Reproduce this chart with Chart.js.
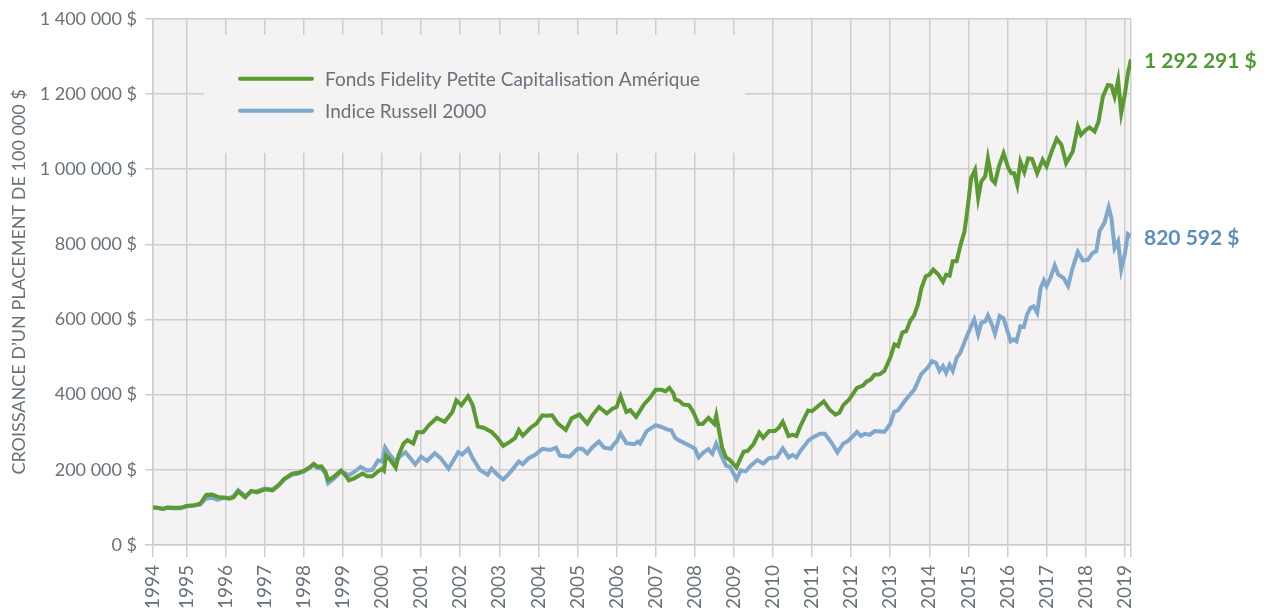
<!DOCTYPE html>
<html>
<head>
<meta charset="utf-8">
<script src="https://cdn.jsdelivr.net/npm/chart.js@4.4.1/dist/chart.umd.min.js"></script>
<style>
  html, body { margin: 0; padding: 0; background: #fff; }
  canvas { display: block; }
</style>
</head>
<body>
<canvas id="growth" width="1270" height="608"></canvas>
<script>
// Series (values in thousands of $, dates as decimal years)
const fundName = "Fonds Fidelity Petite Capitalisation Amérique";
const indexName = "Indice Russell 2000";

const fundYears = [
  1994.14, 1994.25, 1994.4, 1994.5, 1994.7, 1994.85, 1995.0, 1995.2, 1995.35, 1995.5,
  1995.65, 1995.8, 1995.95, 1996.1, 1996.2, 1996.32, 1996.5, 1996.65, 1996.8, 1997.0,
  1997.2, 1997.35, 1997.5, 1997.7, 1997.85, 1998.0, 1998.15, 1998.25, 1998.35, 1998.45,
  1998.55, 1998.62, 1998.75, 1998.95, 1999.08, 1999.15, 1999.3, 1999.5, 1999.62, 1999.75,
  1999.9, 2000.0, 2000.05, 2000.1, 2000.2, 2000.35, 2000.42, 2000.55, 2000.65, 2000.8,
  2000.9, 2001.05, 2001.2, 2001.4, 2001.6, 2001.8, 2001.9, 2002.03, 2002.2, 2002.32,
  2002.45, 2002.6, 2002.8, 2002.95, 2003.1, 2003.25, 2003.4, 2003.5, 2003.6, 2003.8,
  2003.95, 2004.1, 2004.2, 2004.35, 2004.5, 2004.7, 2004.85, 2005.05, 2005.25, 2005.38,
  2005.55, 2005.75, 2005.9, 2006.0, 2006.1, 2006.25, 2006.35, 2006.5, 2006.7, 2006.85,
  2007.0, 2007.15, 2007.25, 2007.35, 2007.45, 2007.5, 2007.6, 2007.7, 2007.85, 2007.95,
  2008.1, 2008.2, 2008.35, 2008.5, 2008.55, 2008.7, 2008.8, 2008.9, 2009.07, 2009.15,
  2009.25, 2009.35, 2009.5, 2009.65, 2009.75, 2009.9, 2010.05, 2010.15, 2010.25, 2010.4,
  2010.5, 2010.6, 2010.7, 2010.9, 2011.0, 2011.15, 2011.3, 2011.45, 2011.6, 2011.7,
  2011.8, 2011.95, 2012.15, 2012.3, 2012.4, 2012.5, 2012.6, 2012.73, 2012.85, 2013.0,
  2013.11, 2013.2, 2013.31, 2013.41, 2013.51, 2013.61, 2013.71, 2013.8, 2013.91, 2014.0,
  2014.1, 2014.22, 2014.35, 2014.43, 2014.52, 2014.6, 2014.7, 2014.8, 2014.9, 2014.98,
  2015.07, 2015.17, 2015.25, 2015.33, 2015.43, 2015.5, 2015.6, 2015.68, 2015.78, 2015.9,
  2016.02, 2016.1, 2016.17, 2016.25, 2016.33, 2016.43, 2016.53, 2016.63, 2016.76, 2016.9,
  2017.0, 2017.13, 2017.26, 2017.38, 2017.5, 2017.67, 2017.8, 2017.88, 2018.0, 2018.1,
  2018.23, 2018.33, 2018.44, 2018.57, 2018.66, 2018.74, 2018.83, 2018.91, 2019.0, 2019.08,
  2019.16
];
const fundValues = [
  100, 99, 96, 100, 99, 99, 104, 106, 110, 133,
  134, 128, 126, 123, 127, 142, 127, 144, 140, 148,
  145, 158, 176, 190, 192, 197, 207, 216, 208, 209,
  195, 173, 180, 198, 183, 172, 178, 190, 183, 183,
  196, 203, 198, 238, 228, 206, 238, 270, 279, 270,
  300, 300, 319, 338, 328, 354, 385, 372, 396, 372,
  315, 312, 301, 285, 264, 273, 284, 306, 291, 312,
  323, 345, 344, 345, 323, 306, 337, 347, 323, 345,
  367, 350, 363, 367, 396, 354, 359, 341, 374, 391,
  413, 413, 409, 418, 404, 387, 384, 374, 372, 356,
  322, 322, 338, 322, 345, 259, 233, 226, 206, 226,
  248, 250, 268, 299, 285, 303, 303, 312, 328, 290,
  293, 290, 316, 358, 356, 369, 382, 360, 347, 352,
  372, 387, 418, 424, 435, 440, 453, 454, 463, 498,
  534, 529, 565, 569, 596, 611, 640, 684, 715, 719,
  733, 721, 700, 719, 717, 755, 755, 799, 834, 896,
  976, 998, 923, 967, 981, 1029, 972, 963, 1007, 1042,
  1003, 989, 989, 958, 1020, 992, 1029, 1027, 989, 1025,
  1007, 1047, 1081, 1065, 1016, 1047, 1113, 1091, 1104, 1111,
  1100, 1127, 1193, 1224, 1222, 1193, 1237, 1149, 1197, 1255,
  1292.291
];

const indexYears = [
  1994.14, 1994.25, 1994.4, 1994.5, 1994.7, 1994.85, 1995.0, 1995.2, 1995.35, 1995.5,
  1995.65, 1995.8, 1995.95, 1996.1, 1996.2, 1996.32, 1996.5, 1996.65, 1996.8, 1997.0,
  1997.2, 1997.35, 1997.5, 1997.7, 1997.85, 1998.0, 1998.15, 1998.25, 1998.35, 1998.45,
  1998.55, 1998.62, 1998.75, 1998.95, 1999.08, 1999.15, 1999.3, 1999.45, 1999.62, 1999.75,
  1999.9, 2000.0, 2000.08, 2000.2, 2000.35, 2000.45, 2000.6, 2000.85, 2001.0, 2001.15,
  2001.35, 2001.5, 2001.7, 2001.95, 2002.05, 2002.2, 2002.32, 2002.5, 2002.7, 2002.8,
  2002.95, 2003.1, 2003.3, 2003.5, 2003.6, 2003.75, 2003.92, 2004.1, 2004.3, 2004.45,
  2004.55, 2004.8, 2005.0, 2005.12, 2005.25, 2005.4, 2005.55, 2005.68, 2005.85, 2005.95,
  2006.0, 2006.1, 2006.25, 2006.45, 2006.55, 2006.6, 2006.77, 2007.0, 2007.15, 2007.3,
  2007.4, 2007.5, 2007.62, 2007.8, 2008.0, 2008.1, 2008.22, 2008.35, 2008.45, 2008.55,
  2008.7, 2008.8, 2008.9, 2009.07, 2009.18, 2009.3, 2009.45, 2009.6, 2009.75, 2009.9,
  2010.1, 2010.25, 2010.4, 2010.5, 2010.6, 2010.7, 2010.9, 2011.0, 2011.2, 2011.33,
  2011.5, 2011.65, 2011.8, 2011.92, 2012.05, 2012.15, 2012.25, 2012.35, 2012.48, 2012.6,
  2012.85, 2013.0, 2013.1, 2013.2, 2013.37, 2013.5, 2013.62, 2013.79, 2013.96, 2014.07,
  2014.17, 2014.26, 2014.35, 2014.43, 2014.52, 2014.6, 2014.7, 2014.79, 2014.95, 2015.07,
  2015.15, 2015.25, 2015.33, 2015.43, 2015.5, 2015.6, 2015.68, 2015.8, 2015.9, 2016.08,
  2016.15, 2016.23, 2016.33, 2016.42, 2016.5, 2016.59, 2016.67, 2016.76, 2016.85, 2016.93,
  2017.0, 2017.1, 2017.21, 2017.3, 2017.43, 2017.55, 2017.67, 2017.8, 2017.93, 2018.06,
  2018.18, 2018.27, 2018.36, 2018.48, 2018.59, 2018.66, 2018.74, 2018.83, 2018.91, 2019.0,
  2019.08, 2019.16
];
const indexValues = [
  100, 99, 96, 99, 97, 98, 103, 105, 108, 124,
  126, 120, 126, 125, 130, 146, 130, 142, 143, 150,
  148, 160, 175, 187, 190, 196, 205, 213, 205, 204,
  190, 164, 175, 195, 190, 185, 195, 208, 198, 200,
  225, 222, 259, 240, 222, 235, 247, 215, 235, 224,
  244, 231, 203, 247, 241, 256, 231, 200, 187, 203,
  187, 174, 196, 222, 215, 231, 240, 256, 253, 259,
  238, 235, 256, 256, 244, 262, 275, 259, 256, 271,
  275, 297, 271, 268, 275, 270, 303, 319, 314, 307,
  305, 285, 277, 268, 257, 233, 246, 255, 243, 270,
  233, 211, 208, 175, 199, 196, 213, 226, 217, 231,
  233, 257, 233, 240, 233, 250, 277, 285, 296, 296,
  272, 246, 270, 277, 290, 301, 290, 296, 293, 303,
  301, 322, 354, 358, 383, 399, 414, 454, 472, 489,
  485, 463, 476, 458, 479, 463, 498, 511, 553, 582,
  600, 560, 591, 595, 611, 587, 562, 609, 603, 542,
  547, 542, 582, 580, 613, 631, 635, 618, 684, 704,
  689, 711, 744, 719, 711, 689, 738, 780, 757, 759,
  777, 781, 836, 857, 899, 870, 790, 808, 733, 773,
  827, 820.592
];

// Axis ticks
const yearTicks = [1994, 1995, 1996, 1997, 1998, 1999, 2000, 2001, 2002, 2003, 2004, 2005, 2006,
  2007, 2008, 2009, 2010, 2011, 2012, 2013, 2014, 2015, 2016, 2017, 2018, 2019];
const startYear = 1994.14;
const endYear = 2019.16;

const green = "#5b9a32";
const blue = "#7fa8cc";
const gridColor = "#cdcdcd";
const textGrey = "#68727b";
const plotBg = "#f4f2f3";

function money(v) {
  const s = Math.round(v).toString().replace(/\B(?=(\d{3})+(?!\d))/g, " ");
  return s + " $";
}

function toPoints(years, values) {
  return years.map((y, i) => ({ x: y, y: values[i] * 1000 }));
}

// plot background
const plotBackground = {
  id: "plotBackground",
  beforeDraw(chart) {
    const { ctx, chartArea: a } = chart;
    ctx.save();
    ctx.fillStyle = plotBg;
    ctx.fillRect(a.left, a.top, a.right - a.left, a.bottom - a.top);
    ctx.restore();
  },
};

// legend box inside the plot, covers the grid
const innerLegend = {
  id: "innerLegend",
  beforeDatasetsDraw(chart) {
    const { ctx, chartArea: a } = chart;
    ctx.save();
    ctx.fillStyle = plotBg;
    ctx.fillRect(a.left + 51, a.top + 16, 541, 118);
    const items = [
      { label: fundName, color: green, y: a.top + 60 },
      { label: indexName, color: blue, y: a.top + 92 },
    ];
    items.forEach((it) => {
      ctx.strokeStyle = it.color;
      ctx.lineWidth = 4;
      ctx.lineCap = "round";
      ctx.beginPath();
      ctx.moveTo(a.left + 87, it.y);
      ctx.lineTo(a.left + 159, it.y);
      ctx.stroke();
      ctx.fillStyle = textGrey;
      ctx.font = "19px Lato";
      ctx.textBaseline = "middle";
      ctx.textAlign = "left";
      ctx.fillText(it.label, a.left + 172, it.y + 1);
    });
    ctx.restore();
  },
};

// value labels at the end of each line
const endLabels = {
  id: "endLabels",
  afterDatasetsDraw(chart) {
    const { ctx } = chart;
    const colors = ["#4f9a33", "#5b8ebf"];
    ctx.save();
    chart.data.datasets.forEach((ds, i) => {
      const meta = chart.getDatasetMeta(i);
      const last = meta.data[meta.data.length - 1];
      const v = ds.data[ds.data.length - 1].y;
      ctx.fillStyle = colors[i];
      ctx.font = "bold 21px Lato";
      ctx.textBaseline = "middle";
      ctx.textAlign = "left";
      ctx.fillText(money(v), last.x + 13, last.y + 2);
    });
    ctx.restore();
  },
};

const ctx_growth = document.getElementById("growth").getContext("2d");
const growthChart = new Chart(ctx_growth, {
  type: "line",
  data: {
    datasets: [
      {
        label: fundName,
        data: toPoints(fundYears, fundValues),
        borderColor: green,
        borderWidth: 4,
        pointRadius: 0,
        tension: 0,
      },
      {
        label: indexName,
        data: toPoints(indexYears, indexValues),
        borderColor: blue,
        borderWidth: 4,
        pointRadius: 0,
        tension: 0,
      },
    ],
  },
  options: {
    responsive: false,
    animation: false,
    layout: { padding: { top: 17, right: 139, left: 0, bottom: 0 } },
    plugins: {
      legend: false,
      tooltip: { enabled: false },
    },
    scales: {
      x: {
        type: "linear",
        min: startYear,
        max: endYear,
        afterBuildTicks(scale) {
          const vals = [startYear].concat(yearTicks.slice(1), [endYear]);
          scale.ticks = vals.map((v) => ({ value: v }));
        },
        afterFit(scale) {
          scale.height = 63;
        },
        ticks: {
          autoSkip: false,
          minRotation: 90,
          maxRotation: 90,
          padding: 8,
          color: textGrey,
          font: { family: "Lato", size: 19 },
          callback: (v) => {
            if (v === startYear) return "1994";
            if (v === endYear) return "";
            return String(v);
          },
        },
        grid: { color: gridColor, lineWidth: 1.5, tickLength: 12 },
        border: { color: gridColor, width: 1.5 },
      },
      y: {
        min: 0,
        max: 1400000,
        afterFit(scale) {
          scale.width = 153;
        },
        ticks: {
          stepSize: 200000,
          padding: 8,
          color: textGrey,
          font: { family: "Lato", size: 18 },
          callback: (v) => money(v),
        },
        grid: { color: gridColor, lineWidth: 1.5, tickLength: 8 },
        border: { color: gridColor, width: 1.5 },
        title: {
          display: true,
          text: "CROISSANCE D\u2019UN PLACEMENT DE 100 000 $",
          color: textGrey,
          font: { family: "Lato", size: 18 },
          padding: { top: 8, bottom: 0 },
        },
      },
    },
  },
  plugins: [plotBackground, innerLegend, endLabels],
});
</script>
</body>
</html>
